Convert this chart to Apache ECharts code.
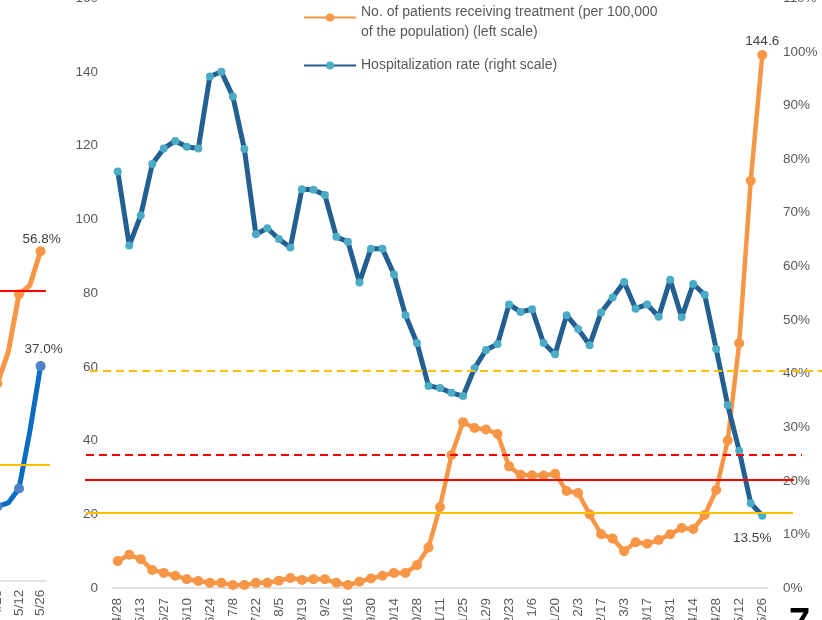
<!DOCTYPE html>
<html><head><meta charset="utf-8">
<script src="https://cdn.jsdelivr.net/npm/echarts@6/dist/echarts.min.js"></script>
<style>html,body{margin:0;padding:0;background:#fff;overflow:hidden}#c{width:822px;height:620px}</style>
</head><body><div id="c"></div>
<script>
// ---- main chart data (weekly) ----
const categories = ['4/28','5/6','5/13','5/20','5/27','6/3','6/10','6/17','6/24','7/1','7/8','7/15','7/22','7/29','8/5','8/12','8/19','8/26','9/2','9/9','9/16','9/23','9/30','10/7','10/14','10/21','10/28','11/4','11/11','11/18','11/25','12/2','12/9','12/16','12/23','12/30','1/6','1/13','1/20','1/27','2/3','2/10','2/17','2/24','3/3','3/10','3/17','3/24','3/31','4/7','4/14','4/21','4/28','5/5','5/12','5/19','5/26'];
const patients = [7.3,9.0,7.8,4.9,4.1,3.3,2.4,1.9,1.4,1.4,0.8,0.8,1.4,1.4,2.0,2.7,2.2,2.4,2.4,1.4,0.8,1.7,2.6,3.3,4.1,4.1,6.2,11.0,22.0,36.1,45.0,43.4,43.0,41.8,33.0,30.7,30.6,30.5,31.0,26.3,25.8,20.0,14.6,13.4,10.0,12.4,12.0,13.0,14.6,16.3,16.0,19.8,26.6,40.0,66.4,110.5,144.6];
const hospRate = [77.7,63.9,69.5,79.1,82.0,83.4,82.3,82.0,95.4,96.3,91.7,81.9,66.0,67.1,65.1,63.5,74.4,74.3,73.3,65.5,64.6,57.0,63.3,63.3,58.5,50.9,45.7,37.7,37.3,36.4,35.8,41.0,44.4,45.5,52.9,51.5,52.0,45.7,43.6,50.9,48.3,45.3,51.4,54.2,57.1,52.1,52.9,50.6,57.5,50.5,56.7,54.7,44.6,34.1,25.6,15.8,13.5];
const seriesNames = ['No. of patients receiving treatment (per 100,000\nof the population) (left scale)', 'Hospitalization rate (right scale)'];
// reference levels on the left scale: yellow dashed, red dashed, red solid, yellow solid
const refLevels = [58.9, 36.1, 29.3, 20.3];

// ---- partially visible neighbouring chart (left edge) ----
const prevCategories = ['4/28','5/5','5/12','5/19','5/26'];
const prevOrange = [34.0, 39.4, 49.4, 50.9, 56.8];
const prevBlue = [12.8, 13.4, 15.9, 25.7, 37.0];
const prevRefLevels = [50, 20];

const FONT = '"Liberation Sans", Arial, Helvetica, sans-serif';
const GREY = '#595959';
const ORANGE = '#F79646';
const NAVY = '#245F92';
const CYAN = '#4BACC6';

const chart = echarts.init(document.getElementById('c'), null, {renderer: 'canvas'});

function lastLabel(arr, labelOpt) {
  return arr.map((v, i) => i === arr.length - 1 ? {value: v, label: Object.assign({show: true}, labelOpt)} : v);
}
const labelText = {color: '#404040', fontSize: 13.5, fontFamily: FONT};

const refStyles = [
  {from: 90, to: 822, color: '#FFC000', type: [8, 5], width: 2},
  {from: 86, to: 802, color: '#FF0000', type: [8, 5], width: 2},
  {from: 85, to: 794, color: '#FF0000', type: 'solid', width: 2},
  {from: 86, to: 793, color: '#FFC000', type: 'solid', width: 2}
];
const mainMarkData = refLevels.map((lv, k) => [
  {x: refStyles[k].from, yAxis: lv, lineStyle: {color: refStyles[k].color, type: refStyles[k].type, width: refStyles[k].width}},
  {x: refStyles[k].to, yAxis: lv}
]);
const prevStyles = [
  {from: -10, to: 46, color: '#FF0000'},
  {from: -10, to: 50, color: '#FFC000'}
];
const prevMarkData = prevRefLevels.map((lv, k) => [
  {x: prevStyles[k].from, yAxis: lv, lineStyle: {color: prevStyles[k].color, type: 'solid', width: 2}},
  {x: prevStyles[k].to, yAxis: lv}
]);

const option = {
  animation: false,
  textStyle: {fontFamily: FONT},
  grid: [
    {left: 112, right: 54, top: -1.7, bottom: 32, containLabel: false, outerBoundsMode: 'none'},
    {left: -8, right: 776, top: 0.7, bottom: 39.3, containLabel: false, outerBoundsMode: 'none'}
  ],
  legend: {
    orient: 'vertical', left: 303, top: -6.5, padding: 0,
    itemWidth: 52, itemHeight: 10, itemGap: 19,
    formatter: function (name) {
      const lines = name.split('\n');
      if (lines.length > 1) return '{s| }\n' + lines.map(l => '{a|' + l + '}').join('\n');
      return '{a|' + name + '}';
    },
    textStyle: {color: GREY, fontSize: 14, fontFamily: FONT,
      rich: {
        s: {lineHeight: 10, fontSize: 8},
        a: {color: GREY, fontSize: 14, fontFamily: FONT, lineHeight: 20}
      }},
    data: seriesNames
  },
  xAxis: [
    {type: 'category', gridIndex: 0, data: categories, boundaryGap: true,
     axisLine: {lineStyle: {color: '#D9D9D9', width: 1.5}}, axisTick: {show: false},
     axisLabel: {interval: 1, rotate: 90, margin: 10, color: GREY, fontSize: 13.5, fontFamily: FONT}},
    {type: 'category', gridIndex: 1, data: prevCategories, boundaryGap: true,
     axisLine: {lineStyle: {color: '#D9D9D9', width: 1.5}}, axisTick: {show: false},
     axisLabel: {interval: 1, rotate: 90, margin: 9, color: GREY, fontSize: 13.5, fontFamily: FONT}}
  ],
  yAxis: [
    {type: 'value', gridIndex: 0, min: 0, max: 160, interval: 20,
     splitLine: {show: false}, axisLine: {show: false}, axisTick: {show: false},
     axisLabel: {margin: 14, color: GREY, fontSize: 13.5, fontFamily: FONT}},
    {type: 'value', gridIndex: 0, min: 0, max: 110, interval: 10, position: 'right',
     splitLine: {show: false}, axisLine: {show: false}, axisTick: {show: false},
     axisLabel: {margin: 15, color: GREY, fontSize: 13.5, fontFamily: FONT, formatter: '{value}%'}},
    {type: 'value', gridIndex: 1, min: 0, max: 100, show: false}
  ],
  series: [
    {name: seriesNames[0], type: 'line', xAxisIndex: 0, yAxisIndex: 0,
     data: lastLabel(patients, Object.assign({position: 'top', distance: 2}, labelText)),
     symbol: 'circle', symbolSize: 10, showAllSymbol: true,
     lineStyle: {color: ORANGE, width: 4.5}, itemStyle: {color: ORANGE},
     markLine: {silent: true, symbol: ['none', 'none'], z: 5, label: {show: false}, data: mainMarkData}},
    {name: seriesNames[1], type: 'line', xAxisIndex: 0, yAxisIndex: 1,
     data: lastLabel(hospRate, Object.assign({position: 'bottom', distance: 12, offset: [-10, 0], formatter: '{c}%'}, labelText)),
     symbol: 'circle', symbolSize: 8, showAllSymbol: true,
     lineStyle: {color: NAVY, width: 5}, itemStyle: {color: CYAN}},
    {name: 'prevOrange', type: 'line', xAxisIndex: 1, yAxisIndex: 2,
     data: lastLabel(prevOrange, Object.assign({position: 'top', distance: 0, offset: [1, 0], formatter: '{c}%'}, labelText)),
     symbol: 'circle', symbolSize: 10, lineStyle: {color: ORANGE, width: 5}, itemStyle: {color: ORANGE},
     markLine: {silent: true, symbol: ['none', 'none'], z: 5, label: {show: false}, data: prevMarkData}},
    {name: 'prevBlue', type: 'line', xAxisIndex: 1, yAxisIndex: 2,
     data: lastLabel(prevBlue, Object.assign({position: 'top', distance: 5, offset: [3, 0], formatter: function (p) { return p.value.toFixed(1) + '%'; }}, labelText)),
     symbol: 'circle', symbolSize: 10, lineStyle: {color: '#0A6CC2', width: 5}, itemStyle: {color: '#4F81C6'}}
  ],
  graphic: [
    {type: 'text', left: 789, top: 606, style: {text: '7', fill: '#000', font: 'bold 38px ' + FONT}}
  ]
};
chart.setOption(option);
</script>
</body></html>
